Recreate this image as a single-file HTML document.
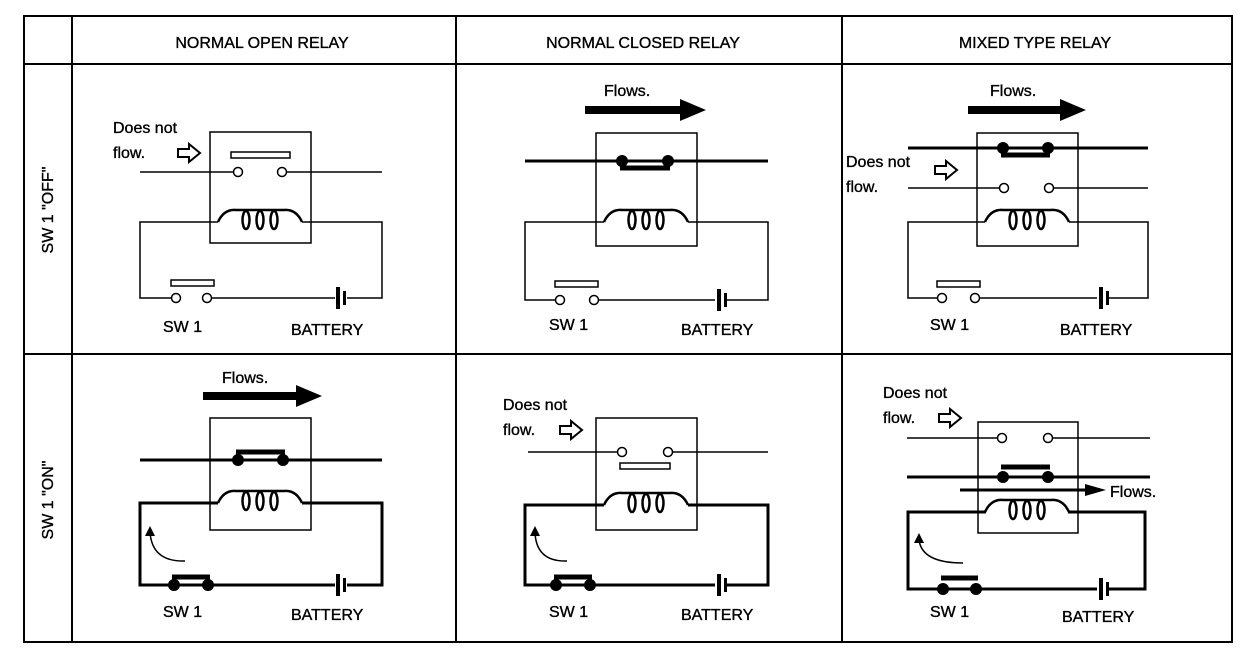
<!DOCTYPE html>
<html><head><style>
html,body{margin:0;padding:0;background:#fff;}
svg{display:block;}
text{font-family:"Liberation Sans",Arial,sans-serif;fill:#000;stroke:#000;stroke-width:0.35;}
</style></head><body>
<svg width="1248" height="658" viewBox="0 0 1248 658" xmlns="http://www.w3.org/2000/svg">
<defs>
<g id="coil" fill="none" stroke="#000" stroke-width="2.5">
<path d="M-42 0 Q-36 -13 -24 -12 L24 -12 Q36 -13 42 0"/>
<ellipse cx="-14" cy="-2" rx="3.5" ry="9"/>
<ellipse cx="0" cy="-2" rx="3.5" ry="9"/>
<ellipse cx="14" cy="-2" rx="3.5" ry="9"/>
</g>
<g id="hol"><path d="M-11 -4 L0 -4 L0 -9 L11 0 L0 9 L0 4 L-11 4 Z" fill="#fff" stroke="#000" stroke-width="2"/></g>
<g id="bat"><rect x="-5" y="-11" width="4" height="22" fill="#000"/><rect x="2" y="-7" width="3" height="14" fill="#000"/></g>
</defs>
<g stroke="#000" stroke-width="2" fill="none">
<rect x="24" y="16" width="1208" height="626"/>
<line x1="72" y1="16" x2="72" y2="642"/>
<line x1="456" y1="16" x2="456" y2="642"/>
<line x1="842" y1="16" x2="842" y2="642"/>
<line x1="24" y1="64" x2="1232" y2="64"/>
<line x1="24" y1="354" x2="1232" y2="354"/>
</g>
<g font-size="16" text-anchor="middle">
<text x="262" y="48">NORMAL OPEN RELAY</text>
<text x="643" y="48">NORMAL CLOSED RELAY</text>
<text x="1035" y="48">MIXED TYPE RELAY</text>
<text transform="translate(53,210) rotate(-90)">SW 1 "OFF"</text>
<text transform="translate(53,500) rotate(-90)">SW 1 "ON"</text>
</g>

<!-- Cell 1: NO OFF -->
<g stroke="#000" stroke-width="1.5" fill="none">
<rect x="210" y="132" width="101" height="111"/>
<rect x="231" y="152" width="59" height="6"/>
<line x1="140" y1="172" x2="234" y2="172"/><circle cx="238" cy="172" r="4.5" fill="#fff"/>
<circle cx="282" cy="172" r="4.5" fill="#fff"/><line x1="287" y1="172" x2="382" y2="172"/>
<polyline points="218,222 140,222 140,298 172,298"/>
<polyline points="211,298 335,298"/><polyline points="347,298 382,298 382,222 302,222"/>
<circle cx="176" cy="298" r="4.5" fill="#fff"/><circle cx="207" cy="298" r="4.5" fill="#fff"/>
<rect x="171" y="280" width="43" height="6"/>
</g>
<use href="#coil" x="260" y="222"/><use href="#bat" x="341" y="298"/><use href="#hol" x="189" y="153"/>
<g font-size="16"><text x="113" y="133">Does not</text><text x="113" y="158">flow.</text>
<text x="163" y="332">SW 1</text><text x="291" y="335">BATTERY</text></g>

<!-- Cell 2: NC OFF -->
<g stroke="#000" stroke-width="1.5" fill="none">
<rect x="596" y="133" width="101" height="113"/>
<line x1="525" y1="161" x2="768" y2="161" stroke-width="3"/>
<line x1="620" y1="168" x2="670" y2="168" stroke-width="5"/>
<polyline points="604,222 525,222 525,300 556,300"/>
<polyline points="598,300 715,300"/><polyline points="727,300 768,300 768,222 688,222"/>
<circle cx="560" cy="300" r="4.5" fill="#fff"/><circle cx="594" cy="300" r="4.5" fill="#fff"/>
<rect x="555" y="281" width="43" height="6"/>
</g>
<circle cx="622" cy="161" r="6"/><circle cx="668" cy="161" r="6"/>
<path d="M585 106 L680 106 L680 99 L706 110 L680 121 L680 114 L585 114 Z"/>
<use href="#coil" x="646" y="222"/><use href="#bat" x="722" y="300"/>
<g font-size="16"><text x="604" y="96">Flows.</text>
<text x="549" y="330">SW 1</text><text x="681" y="335">BATTERY</text></g>

<!-- Cell 3: Mixed OFF -->
<g stroke="#000" stroke-width="1.5" fill="none">
<rect x="977" y="133" width="101" height="113"/>
<line x1="908" y1="148" x2="1148" y2="148" stroke-width="3"/>
<line x1="1001" y1="155" x2="1050" y2="155" stroke-width="5"/>
<line x1="908" y1="188" x2="1000" y2="188"/><line x1="1053" y1="188" x2="1148" y2="188"/>
<circle cx="1004" cy="188" r="4.5" fill="#fff"/><circle cx="1049" cy="188" r="4.5" fill="#fff"/>
<polyline points="985,222 908,222 908,298 938,298"/>
<polyline points="979,298 1097,298"/><polyline points="1109,298 1148,298 1148,222 1069,222"/>
<circle cx="942" cy="298" r="4.5" fill="#fff"/><circle cx="975" cy="298" r="4.5" fill="#fff"/>
<rect x="937" y="281" width="43" height="6"/>
</g>
<circle cx="1003" cy="148" r="6"/><circle cx="1048" cy="148" r="6"/>
<path d="M968 106 L1060 106 L1060 99 L1086 110 L1060 121 L1060 114 L968 114 Z"/>
<use href="#coil" x="1027" y="222"/><use href="#bat" x="1104" y="298"/><use href="#hol" x="946" y="170"/>
<g font-size="16"><text x="990" y="96">Flows.</text><text x="846" y="167">Does not</text><text x="846" y="192">flow.</text>
<text x="930" y="330">SW 1</text><text x="1060" y="335">BATTERY</text></g>

<!-- Cell 4: NO ON -->
<g stroke="#000" stroke-width="1.5" fill="none">
<rect x="210" y="418" width="101" height="112"/>
<line x1="140" y1="460" x2="382" y2="460" stroke-width="3"/>
<line x1="236" y1="452" x2="285" y2="452" stroke-width="5"/>
<polyline points="218,503 140,503 140,585 335,585" stroke-width="3"/>
<polyline points="347,585 382,585 382,503 302,503" stroke-width="3"/>
<line x1="172" y1="577" x2="210" y2="577" stroke-width="5"/>
<path d="M185 561 Q152 562 150 532"/>
</g>
<path d="M145 536 L150 526 L155 536 Z"/>
<circle cx="238" cy="460" r="6"/><circle cx="283" cy="460" r="6"/>
<circle cx="174" cy="585" r="6"/><circle cx="208" cy="585" r="6"/>
<path d="M203 392 L296 392 L296 385 L322 396 L296 407 L296 400 L203 400 Z"/>
<use href="#coil" x="260" y="503"/><use href="#bat" x="341" y="585"/>
<g font-size="16"><text x="222" y="383">Flows.</text>
<text x="163" y="617">SW 1</text><text x="291" y="620">BATTERY</text></g>

<!-- Cell 5: NC ON -->
<g stroke="#000" stroke-width="1.5" fill="none">
<rect x="596" y="418" width="101" height="112"/>
<line x1="528" y1="452" x2="618" y2="452"/><line x1="672" y1="452" x2="768" y2="452"/>
<circle cx="622" cy="452" r="4.5" fill="#fff"/><circle cx="668" cy="452" r="4.5" fill="#fff"/>
<rect x="620" y="463" width="50" height="6"/>
<polyline points="604,505 525,505 525,585 715,585" stroke-width="3"/>
<polyline points="727,585 768,585 768,505 688,505" stroke-width="3"/>
<line x1="554" y1="577" x2="592" y2="577" stroke-width="5"/>
<path d="M567 561 Q536 562 535 532"/>
</g>
<path d="M530 536 L535 526 L540 536 Z"/>
<circle cx="556" cy="585" r="6"/><circle cx="590" cy="585" r="6"/>
<use href="#coil" x="646" y="505"/><use href="#bat" x="722" y="585"/><use href="#hol" x="571" y="430"/>
<g font-size="16"><text x="503" y="410">Does not</text><text x="503" y="435">flow.</text>
<text x="549" y="617">SW 1</text><text x="681" y="620">BATTERY</text></g>

<!-- Cell 6: Mixed ON -->
<g stroke="#000" stroke-width="1.5" fill="none">
<rect x="978" y="422" width="100" height="111"/>
<line x1="907" y1="438" x2="998" y2="438"/><line x1="1052" y1="438" x2="1150" y2="438"/>
<circle cx="1002" cy="438" r="4.5" fill="#fff"/><circle cx="1048" cy="438" r="4.5" fill="#fff"/>
<line x1="907" y1="477" x2="1150" y2="477" stroke-width="3"/>
<line x1="1001" y1="467" x2="1050" y2="467" stroke-width="5"/>
<line x1="960" y1="490" x2="1090" y2="490" stroke-width="3"/>
<polyline points="986,512 908,512 908,589 1097,589" stroke-width="3"/>
<polyline points="1109,589 1145,589 1145,512 1068,512" stroke-width="3"/>
<line x1="941" y1="578" x2="978" y2="578" stroke-width="5"/>
<path d="M963 563 Q922 563 919 540"/>
</g>
<path d="M914 543 L919 533 L924 543 Z"/>
<path d="M1085 484 L1106 490 L1085 496 Z"/>
<circle cx="1003" cy="477" r="6"/><circle cx="1048" cy="477" r="6"/>
<circle cx="943" cy="589" r="6"/><circle cx="976" cy="589" r="6"/>
<use href="#coil" x="1027" y="512"/><use href="#bat" x="1104" y="589"/><use href="#hol" x="950" y="418"/>
<g font-size="16"><text x="883" y="398">Does not</text><text x="883" y="423">flow.</text><text x="1110" y="497">Flows.</text>
<text x="930" y="617">SW 1</text><text x="1062" y="622">BATTERY</text></g>
</svg>
</body></html>
